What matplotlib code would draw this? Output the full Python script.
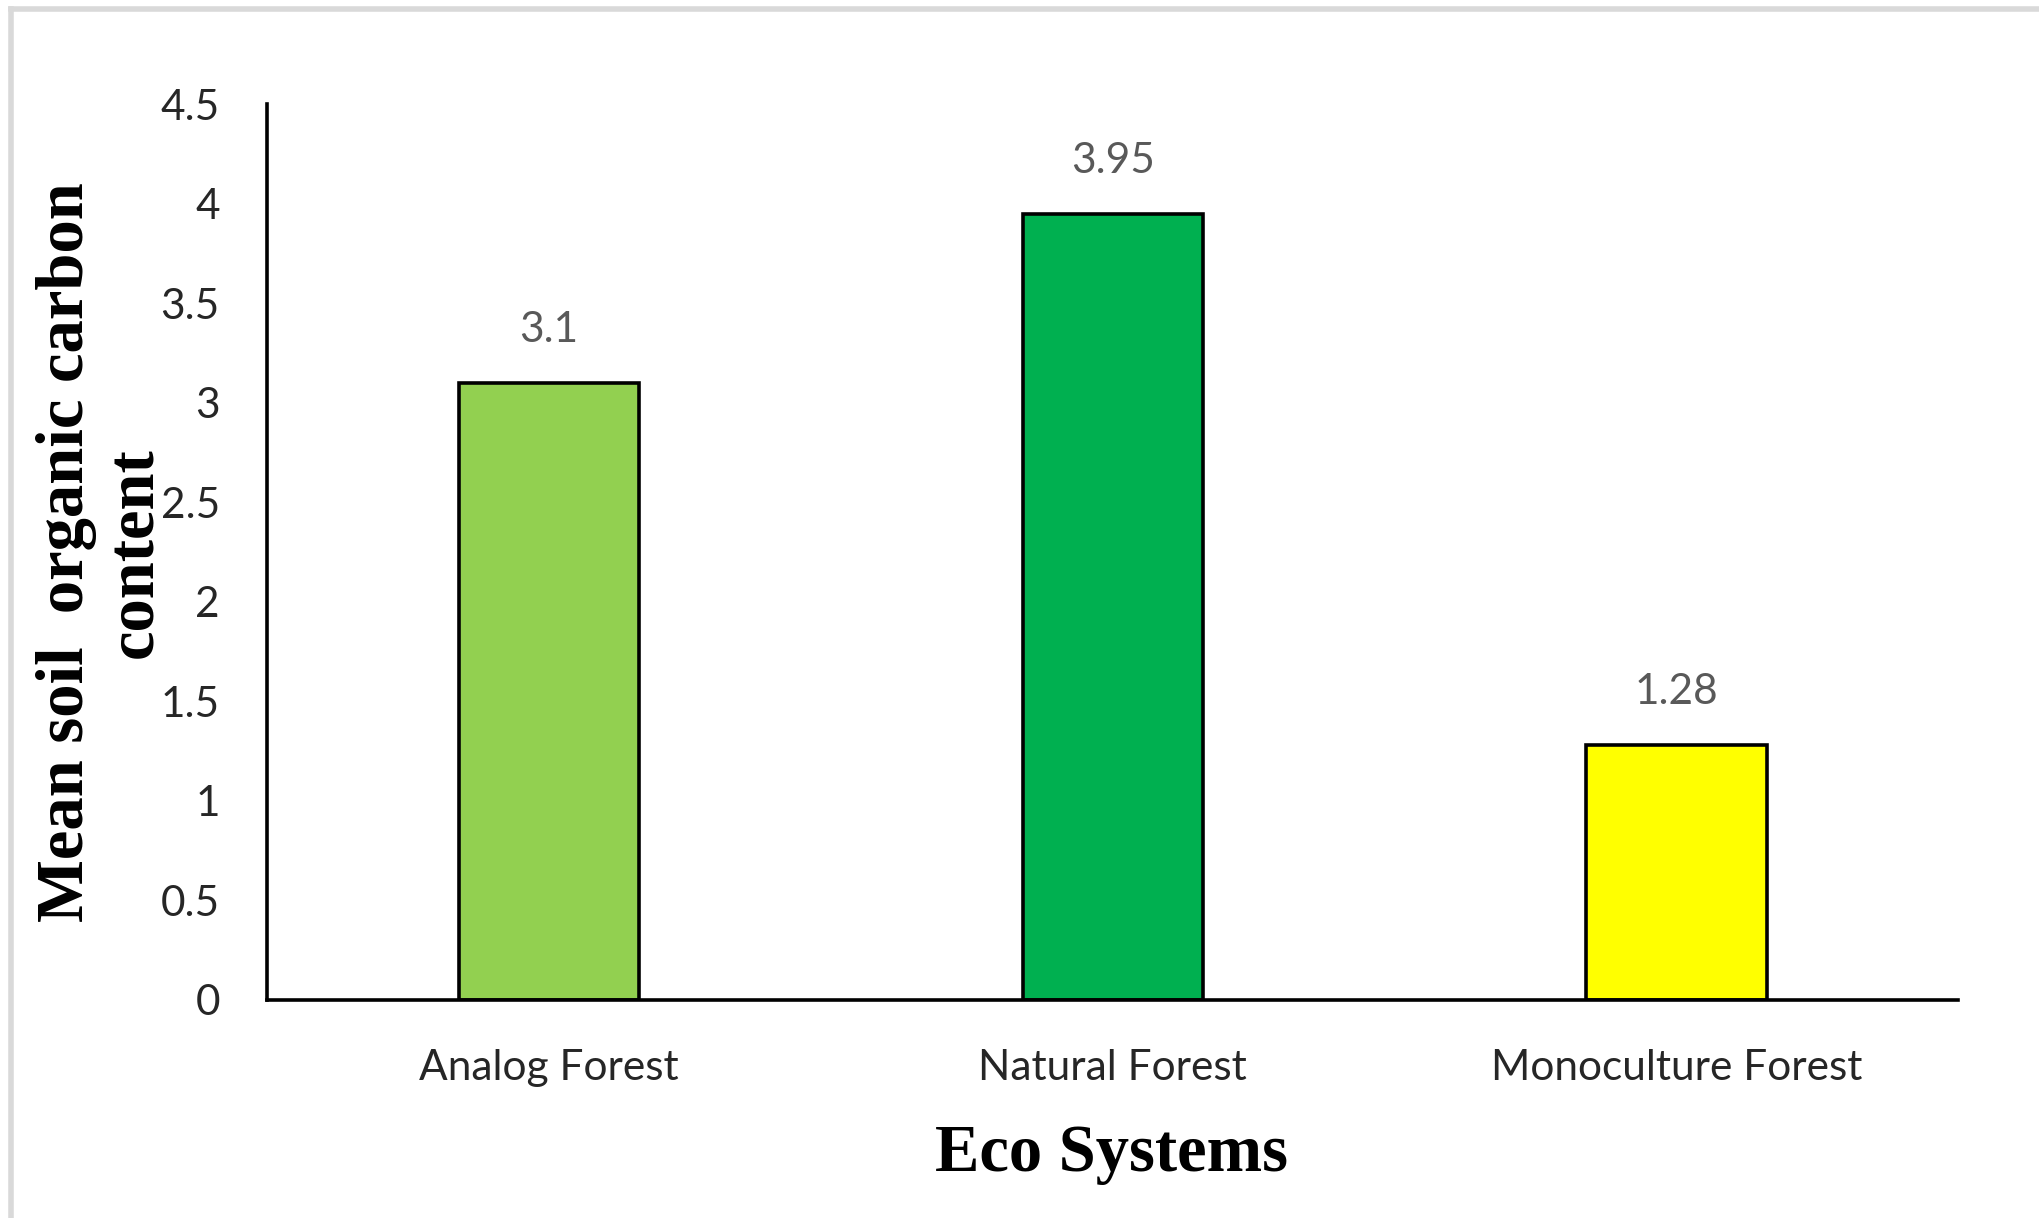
import matplotlib
matplotlib.use("Agg")
import matplotlib.pyplot as plt
from matplotlib.lines import Line2D

ecosystems = ["Analog Forest", "Natural Forest", "Monoculture Forest"]
soc_mean = [3.1, 3.95, 1.28]
bar_colors = ["#92D050", "#00B050", "#FFFF00"]
y_ticks = [0, 0.5, 1, 1.5, 2, 2.5, 3, 3.5, 4, 4.5]
y_tick_labels = ["0", "0.5", "1", "1.5", "2", "2.5", "3", "3.5", "4", "4.5"]

SANS = ["Lato", "DejaVu Sans"]
SERIF = ["Liberation Serif", "DejaVu Serif"]

fig = plt.figure(figsize=(20.4, 12.18), dpi=100)
ax = fig.add_axes([0.1309, 0.179, 0.960 - 0.1309, 0.9146 - 0.179])

x = range(len(ecosystems))
bars = ax.bar(x, soc_mean, width=0.32, color=bar_colors,
              edgecolor="black", linewidth=2.6, zorder=2)

for rect, v in zip(bars, soc_mean):
    ax.annotate(f"{v:g}", (rect.get_x() + rect.get_width() / 2, v),
                xytext=(0, 38), textcoords="offset points",
                ha="center", va="center", fontsize=30.5, color="#595959",
                family=SANS)

ax.set_xlim(-0.5, 2.5)
ax.set_ylim(0, 4.5)
ax.set_yticks(y_ticks)
ax.set_yticklabels(y_tick_labels, family=SANS, fontsize=30.5, color="#262626")
ax.set_xticks(list(x))
ax.set_xticklabels(ecosystems, family=SANS, fontsize=30.5, color="#262626")
ax.tick_params(axis="both", length=0)
ax.tick_params(axis="y", pad=34)
ax.tick_params(axis="x", pad=35)

for side in ["top", "right"]:
    ax.spines[side].set_visible(False)
for side in ["left", "bottom"]:
    ax.spines[side].set_linewidth(2.6)
    ax.spines[side].set_color("black")

# axis titles are placed by hand, the y title overlaps the tick labels
fig.text(0.0495, 0.5465, "Mean soil  organic carbon\ncontent", rotation=90,
         ha="center", va="center", multialignment="center",
         fontsize=48, fontweight="bold", family=SERIF, linespacing=1.18)
fig.text(0.545, 0.052, "Eco Systems", ha="center", va="center",
         fontsize=48, fontweight="bold", family=SERIF)

# light grey frame along top and left edge
fig.add_artist(Line2D([0.0055, 1.0], [0.9925, 0.9925], color="#d9d9d9",
                      linewidth=4, transform=fig.transFigure))
fig.add_artist(Line2D([0.0055, 0.0055], [0.0, 0.9925], color="#d9d9d9",
                      linewidth=4, transform=fig.transFigure))

fig.savefig("out.png", dpi=100, facecolor="white")
